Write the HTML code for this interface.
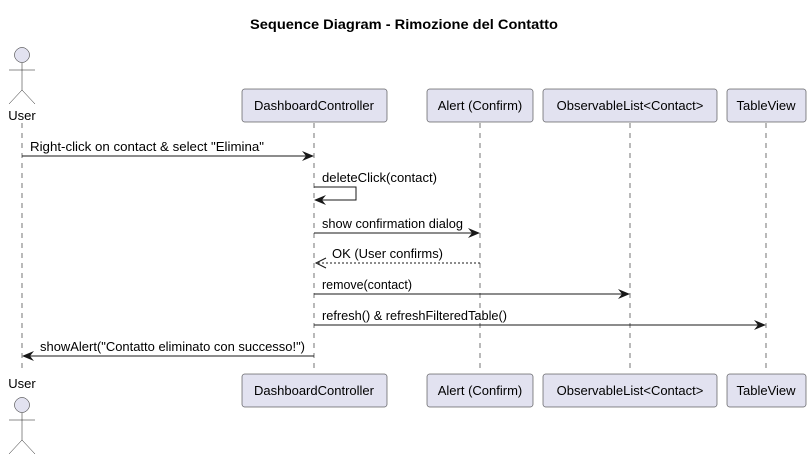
<!DOCTYPE html>
<html><head><meta charset="utf-8"><style>
html,body{margin:0;padding:0;background:#fff;}
svg{display:block;font-family:"Liberation Sans",sans-serif;}
</style></head><body>
<svg width="811" height="457" viewBox="0 0 811 457" xmlns="http://www.w3.org/2000/svg">
<text x="250" y="29" textLength="308" lengthAdjust="spacingAndGlyphs" font-size="13.5" font-weight="bold" fill="#000">Sequence Diagram - Rimozione del Contatto</text>
<g stroke="#181818" stroke-width="0.6" stroke-dasharray="5,5">
<line x1="22" y1="123" x2="22" y2="373"/>
<line x1="314" y1="123" x2="314" y2="373"/>
<line x1="480" y1="123" x2="480" y2="373"/>
<line x1="630" y1="123" x2="630" y2="373"/>
<line x1="766" y1="123" x2="766" y2="373"/>
</g>
<g fill="#E2E2F0" stroke="#181818" stroke-width="0.5">
<circle cx="22" cy="55" r="7.5"/>
<circle cx="22" cy="405" r="7.5"/>
<rect x="242" y="89" width="145" height="33" rx="2.5"/>
<rect x="427" y="89" width="106" height="33" rx="2.5"/>
<rect x="543" y="89" width="174" height="33" rx="2.5"/>
<rect x="727" y="89" width="79" height="33" rx="2.5"/>
<rect x="242" y="374" width="145" height="33" rx="2.5"/>
<rect x="427" y="374" width="106" height="33" rx="2.5"/>
<rect x="543" y="374" width="174" height="33" rx="2.5"/>
<rect x="727" y="374" width="79" height="33" rx="2.5"/>
</g>
<g stroke="#181818" stroke-width="0.5" fill="none">
<path d="M22 63 V90 M9 70 H35 M22 90 L9 104 M22 90 L35 104"/>
<path d="M22 413 V440 M9 420 H35 M22 440 L9 454 M22 440 L35 454"/>
</g>
<g font-size="13" fill="#000" text-anchor="middle">
<text x="22" y="120">User</text>
<text x="22" y="388">User</text>
<text x="314" y="110">DashboardController</text>
<text x="480" y="110">Alert (Confirm)</text>
<text x="630" y="110">ObservableList&lt;Contact&gt;</text>
<text x="766" y="110">TableView</text>
<text x="314" y="395">DashboardController</text>
<text x="480" y="395">Alert (Confirm)</text>
<text x="630" y="395">ObservableList&lt;Contact&gt;</text>
<text x="766" y="395">TableView</text>
</g>
<g stroke="#181818" stroke-width="1" fill="none">
<line x1="22" y1="156" x2="312" y2="156"/>
<path d="M314 187 H356 V200 H316"/>
<line x1="314" y1="233" x2="478" y2="233"/>
<line x1="480" y1="263" x2="316" y2="263" stroke-dasharray="2,2"/>
<line x1="314" y1="294" x2="628" y2="294"/>
<line x1="314" y1="325" x2="764" y2="325"/>
<line x1="314" y1="356" x2="24" y2="356"/>
</g>
<g fill="#181818">
<polygon points="314,156 302,151 306,156 302,161"/>
<polygon points="314,200 326,195 322,200 326,205"/>
<polygon points="480,233 468,228 472,233 468,238"/>
<polygon points="630,294 618,289 622,294 618,299"/>
<polygon points="766,325 754,320 758,325 754,330"/>
<polygon points="22,356 34,351 30,356 34,361"/>
</g>
<path d="M326 258 L316 263 L326 268" stroke="#181818" stroke-width="1" fill="none"/>
<g font-size="12.5" fill="#000">
<text x="30" y="151" textLength="234" lengthAdjust="spacingAndGlyphs">Right-click on contact &amp; select "Elimina"</text>
<text x="322" y="182" textLength="115" lengthAdjust="spacingAndGlyphs">deleteClick(contact)</text>
<text x="322" y="228" textLength="141" lengthAdjust="spacingAndGlyphs">show confirmation dialog</text>
<text x="332" y="258" textLength="111" lengthAdjust="spacingAndGlyphs">OK (User confirms)</text>
<text x="322" y="289" textLength="90" lengthAdjust="spacingAndGlyphs">remove(contact)</text>
<text x="322" y="320" textLength="185" lengthAdjust="spacingAndGlyphs">refresh() &amp; refreshFilteredTable()</text>
<text x="40" y="351" textLength="265" lengthAdjust="spacingAndGlyphs">showAlert("Contatto eliminato con successo!")</text>
</g>
</svg>
</body></html>
